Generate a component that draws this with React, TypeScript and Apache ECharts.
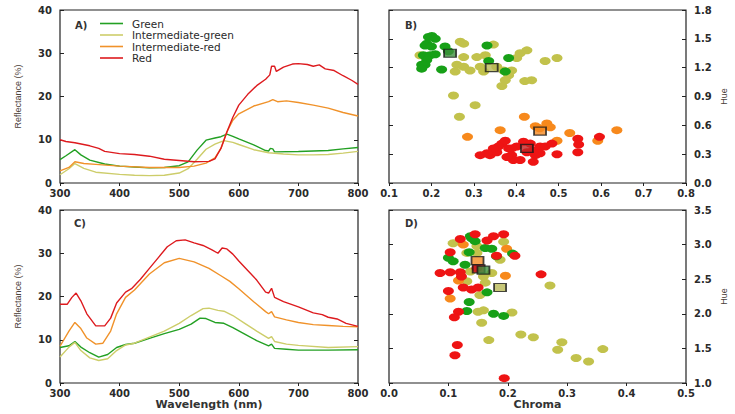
import React, { useEffect, useRef } from "react";
import * as echarts from "echarts";

// ---------- Data ----------
const seriesNames = ["Green", "Intermediate-green", "Intermediate-red", "Red"];
const lineColors = ["#23a023", "#cdcd6a", "#f0922a", "#dd1a1e"];
const dotColors = ["#17a017", "#c2c24c", "#f7891c", "#ee1414"];
const meanColors = ["#3f8f3f", "#b9b956", "#f58a22", "#c22222"];

const wavelengthTicks = [300, 400, 500, 600, 700, 800];

// Panel A: reflectance spectra, [wavelength nm, reflectance %]
const aGreen = [[300,5.4],[310,6.3],[325,7.7],[335,6.5],[350,5.3],[375,4.4],[400,3.9],[425,3.7],[450,3.5],[475,3.6],[500,4.0],[515,4.9],[530,7.6],[545,9.9],[560,10.4],[570,10.7],[580,11.3],[590,10.8],[600,10.2],[625,8.8],[645,7.5],[650,7.4],[653,8.0],[657,7.9],[660,7.2],[700,7.3],[725,7.4],[750,7.5],[775,7.9],[800,8.2]];
const aIntGreen = [[300,1.9],[315,3.3],[325,4.5],[340,3.4],[360,2.5],[400,2.0],[425,1.8],[450,1.7],[475,1.8],[500,2.3],[515,3.3],[530,5.5],[545,7.8],[560,9.0],[575,9.8],[590,9.4],[600,8.9],[625,7.7],[650,7.0],[675,6.7],[700,6.5],[725,6.5],[750,6.6],[775,6.9],[800,7.3]];
const aIntRed = [[300,2.8],[315,3.6],[325,4.9],[340,4.5],[360,4.3],[400,3.9],[450,3.6],[500,3.6],[525,3.9],[545,4.6],[560,5.8],[570,8.0],[580,11.8],[590,14.5],[600,16.0],[625,17.8],[650,18.8],[657,19.3],[665,18.8],[680,19.0],[700,18.6],[725,18.0],[750,17.3],[775,16.3],[800,15.5]];
const aRed = [[300,10.0],[310,9.6],[325,9.3],[350,8.6],[365,8.0],[375,7.3],[400,6.8],[425,6.6],[450,6.2],[475,5.5],[500,5.2],[525,4.9],[550,5.0],[560,5.6],[570,8.0],[580,11.8],[590,15.2],[600,18.0],[615,20.5],[630,22.5],[645,24.0],[652,25.0],[655,27.0],[660,27.0],[663,25.8],[675,26.8],[690,27.5],[700,27.6],[715,27.4],[725,27.0],[735,27.3],[745,26.4],[760,26.0],[775,24.8],[790,23.7],[800,22.8]];

// Panel C: reflectance spectra, [wavelength nm, reflectance %]
const cGreen = [[300,8.2],[315,8.6],[325,9.6],[335,8.3],[350,7.0],[365,6.0],[380,6.6],[395,8.2],[410,8.9],[425,9.2],[450,10.3],[475,11.4],[500,12.4],[520,13.6],[535,15.0],[545,14.9],[560,14.0],[575,13.8],[590,12.8],[610,11.3],[630,9.8],[650,8.6],[655,9.0],[660,8.0],[680,7.8],[700,7.6],[750,7.6],[800,7.7]];
const cIntGreen = [[300,6.0],[315,8.3],[325,9.4],[335,7.5],[350,5.8],[365,5.2],[380,5.6],[395,7.5],[410,8.8],[425,9.2],[450,10.6],[475,12.0],[500,13.8],[520,15.6],[540,17.2],[550,17.3],[565,16.8],[575,16.6],[590,15.6],[610,13.8],[630,12.0],[650,10.3],[655,10.7],[660,9.6],[680,9.0],[700,8.7],[750,8.2],[800,8.4]];
const cIntRed = [[300,8.5],[315,12.0],[325,14.0],[335,12.6],[345,10.4],[360,9.0],[372,9.2],[385,12.0],[395,16.0],[410,19.8],[425,21.5],[450,25.2],[475,27.8],[500,28.8],[525,28.0],[550,26.5],[570,24.8],[585,23.5],[600,21.8],[625,18.8],[645,16.5],[650,16.0],[655,16.5],[660,15.3],[680,14.6],[700,14.0],[725,13.5],[750,13.3],[775,13.1],[800,13.0]];
const cRed = [[300,18.2],[312,18.2],[320,19.8],[327,20.8],[335,19.0],[345,16.0],[360,13.2],[375,13.2],[385,15.0],[395,18.5],[410,21.0],[420,21.8],[435,24.0],[450,26.5],[465,29.0],[480,31.5],[495,32.9],[510,33.1],[525,32.4],[540,31.8],[555,30.8],[565,30.0],[572,31.2],[580,31.0],[590,29.8],[600,28.2],[615,26.0],[630,23.8],[645,21.0],[650,20.8],[655,21.9],[660,19.8],[675,18.8],[700,17.6],[725,16.2],[740,15.8],[750,15.2],[765,14.8],[780,13.8],[800,13.1]];

// Panel B: [chroma, hue]
const bGreen = [[0.193,1.52],[0.201,1.53],[0.209,1.50],[0.189,1.45],[0.185,1.43],[0.200,1.42],[0.232,1.42],[0.240,1.37],[0.181,1.33],[0.197,1.33],[0.209,1.34],[0.189,1.28],[0.185,1.23],[0.177,1.23],[0.177,1.19],[0.224,1.18],[0.331,1.43],[0.335,1.27],[0.382,1.30],[0.374,1.16]];
const bIntGreen = [[0.268,1.47],[0.276,1.45],[0.346,1.44],[0.173,1.33],[0.276,1.31],[0.260,1.23],[0.276,1.21],[0.291,1.17],[0.256,1.16],[0.307,1.31],[0.327,1.33],[0.315,1.21],[0.323,1.16],[0.354,1.21],[0.370,1.17],[0.389,1.17],[0.382,1.12],[0.374,1.07],[0.366,1.01],[0.401,1.30],[0.409,1.35],[0.425,1.38],[0.420,1.06],[0.436,1.07],[0.468,1.27],[0.496,1.30],[0.252,0.91],[0.303,0.81],[0.266,0.69]];
const bIntRed = [[0.419,0.69],[0.362,0.55],[0.285,0.48],[0.445,0.59],[0.472,0.62],[0.480,0.58],[0.526,0.52],[0.496,0.44],[0.592,0.44],[0.637,0.55],[0.455,0.57]];
const bRed = [[0.315,0.29],[0.338,0.29],[0.354,0.32],[0.366,0.41],[0.374,0.44],[0.358,0.38],[0.382,0.36],[0.389,0.29],[0.393,0.24],[0.409,0.24],[0.401,0.38],[0.417,0.43],[0.433,0.41],[0.440,0.34],[0.456,0.38],[0.468,0.38],[0.456,0.31],[0.445,0.29],[0.484,0.41],[0.496,0.30],[0.440,0.22],[0.545,0.46],[0.547,0.40],[0.545,0.32],[0.596,0.48],[0.425,0.32],[0.378,0.27],[0.346,0.36],[0.389,0.36],[0.331,0.31]];
const bMeans = [[0.244,1.35],[0.342,1.20],[0.456,0.54],[0.425,0.36]];

// Panel D: [chroma, hue]
const dGreen = [[0.137,3.12],[0.145,3.05],[0.100,2.81],[0.108,2.76],[0.128,2.71],[0.135,2.89],[0.162,2.95],[0.173,2.94],[0.181,2.83],[0.208,2.87],[0.165,2.31],[0.135,2.17],[0.131,2.04],[0.176,2.00],[0.193,1.97],[0.139,3.09]];
const dIntGreen = [[0.108,3.02],[0.148,2.98],[0.193,3.04],[0.131,2.88],[0.148,2.88],[0.187,2.78],[0.137,2.61],[0.173,2.59],[0.159,2.54],[0.162,2.45],[0.153,2.27],[0.150,2.03],[0.159,2.05],[0.207,2.02],[0.156,1.87],[0.168,1.62],[0.222,1.70],[0.243,1.66],[0.291,1.59],[0.284,1.48],[0.315,1.36],[0.336,1.31],[0.360,1.49],[0.271,2.41],[0.131,2.47]];
const dIntRed = [[0.198,2.94],[0.196,2.55],[0.103,2.22],[0.117,2.48],[0.125,3.00]];
const dRed = [[0.145,3.15],[0.120,3.08],[0.193,3.15],[0.176,3.12],[0.165,3.06],[0.103,2.89],[0.086,2.59],[0.103,2.60],[0.120,2.60],[0.122,2.54],[0.125,2.38],[0.139,2.35],[0.150,2.38],[0.100,2.33],[0.117,2.03],[0.110,1.95],[0.115,1.55],[0.111,1.40],[0.194,1.07],[0.256,2.57],[0.212,2.84],[0.181,2.84],[0.148,2.66]];
const dMeans = [[0.159,2.63],[0.187,2.38],[0.149,2.77],[0.151,2.65]];

// ---------- Styles ----------
const tickFont = { fontFamily: "DejaVu Sans", fontWeight: "bold" as const, fontSize: 10, color: "#2a2a2a" };

function xAxisCfg(grid: number, min: number, max: number, interval: number, dec: number, name?: string) {
  return {
    type: "value", gridIndex: grid, min, max, interval,
    axisLine: { show: false },
    axisTick: { show: true, inside: false, length: 3, lineStyle: { color: "#222", width: 1 } },
    axisLabel: { ...tickFont, margin: 5, formatter: (v: number) => v.toFixed(dec) },
    splitLine: { show: false },
    name: name || "",
    nameLocation: "middle",
    nameGap: 15,
    nameTextStyle: { fontFamily: "DejaVu Sans", fontWeight: "bold", fontSize: 11, color: "#333", verticalAlign: "top" },
  };
}

function yAxisCfg(grid: number, pos: "left" | "right", min: number, max: number, interval: number, dec: number, showLabel: boolean, name?: string) {
  return {
    type: "value", gridIndex: grid, position: pos, min, max, interval,
    axisLine: { show: false },
    axisTick: { show: true, inside: true, length: 4, lineStyle: { color: "#222", width: 1 } },
    axisLabel: { show: showLabel, ...tickFont, margin: 8, formatter: (v: number) => v.toFixed(dec) },
    splitLine: { show: false },
    name: name || "",
    nameLocation: "middle",
    nameRotate: 90,
    nameGap: pos === "left" ? 38 : 33,
    nameTextStyle: { fontFamily: "Liberation Sans", fontSize: 9, color: "#4a4038" },
  };
}

const gridBox = { show: true, borderColor: "#222", borderWidth: 1.2, backgroundColor: "transparent" };

export default function App() {
  const ref = useRef<HTMLDivElement>(null);
  useEffect(() => {
    document.body.style.margin = "0";
    if (!ref.current) return;
    const chart = echarts.init(ref.current, null, { renderer: "svg" });

    const lineSeries = (data: number[][], i: number, grid: 0 | 2, named: boolean) => ({
      type: "line",
      name: named ? seriesNames[i] : seriesNames[i] + " (C)",
      xAxisIndex: grid === 0 ? 0 : 2,
      yAxisIndex: grid === 0 ? 0 : 4,
      data,
      showSymbol: false,
      symbol: "none",
      lineStyle: { color: lineColors[i], width: 1.4 },
      itemStyle: { color: lineColors[i] },
      z: 2 + i,
    });

    const dotSeries = (data: number[][], i: number, panel: "B" | "D", z: number) => ({
      type: "scatter",
      name: seriesNames[i] + " (" + panel + ")",
      xAxisIndex: panel === "B" ? 1 : 3,
      yAxisIndex: panel === "B" ? 3 : 7,
      data,
      symbol: "circle",
      symbolSize: [11, 8],
      itemStyle: { color: dotColors[i], opacity: 1 },
      z,
    });

    const meanSeries = (means: number[][], i: number, panel: "B" | "D") => ({
      type: "scatter",
      name: seriesNames[i] + " mean (" + panel + ")",
      xAxisIndex: panel === "B" ? 1 : 3,
      yAxisIndex: panel === "B" ? 3 : 7,
      data: [means[i]],
      symbol: "rect",
      symbolSize: [12, 8],
      itemStyle: { color: meanColors[i], borderColor: "#1a1a1a", borderWidth: 1.5 },
      z: 20,
    });

    const panelLabel = (text: string, x: number, y: number) => ({
      type: "text", x, y,
      style: { text, fontFamily: "DejaVu Sans", fontWeight: "bold", fontSize: 10, fill: "#333", textVerticalAlign: "middle" },
    });

    chart.setOption({
      animation: false,
      backgroundColor: "#fff",
      grid: [
        { left: 60, top: 10, width: 298, height: 173, ...gridBox },
        { left: 389, top: 10, width: 297, height: 173, ...gridBox },
        { left: 60, top: 210, width: 298, height: 173, ...gridBox },
        { left: 389, top: 210, width: 297, height: 173, ...gridBox },
      ],
      xAxis: [
        xAxisCfg(0, wavelengthTicks[0], wavelengthTicks[wavelengthTicks.length - 1], 100, 0),
        xAxisCfg(1, 0.1, 0.8, 0.1, 1),
        xAxisCfg(2, wavelengthTicks[0], wavelengthTicks[wavelengthTicks.length - 1], 100, 0, "Wavelength (nm)"),
        xAxisCfg(3, 0, 0.5, 0.1, 1, "Chroma"),
      ],
      yAxis: [
        yAxisCfg(0, "left", 0, 40, 10, 0, true, "Reflectance (%)"),
        yAxisCfg(0, "right", 0, 40, 10, 0, false),
        yAxisCfg(1, "left", 0, 1.8, 0.3, 1, false),
        yAxisCfg(1, "right", 0, 1.8, 0.3, 1, true, "Hue"),
        yAxisCfg(2, "left", 0, 40, 10, 0, true, "Reflectance (%)"),
        yAxisCfg(2, "right", 0, 40, 10, 0, false),
        yAxisCfg(3, "left", 1, 3.5, 0.5, 1, false),
        yAxisCfg(3, "right", 1, 3.5, 0.5, 1, true, "Hue"),
      ],
      legend: {
        data: seriesNames,
        orient: "vertical",
        left: 100,
        top: 18,
        padding: 0,
        itemGap: 0.5,
        itemWidth: 23,
        itemHeight: 1.6,
        icon: "rect",
        textStyle: { fontFamily: "DejaVu Sans", fontSize: 10.5, color: "#2a2a2a", lineHeight: 10, padding: [0, 0, 0, 4] },
      },
      graphic: [
        panelLabel("A)", 75, 25),
        panelLabel("B)", 405, 25),
        panelLabel("C)", 74, 223),
        panelLabel("D)", 405, 223),
      ],
      series: [
        lineSeries(aGreen, 0, 0, true),
        lineSeries(aIntGreen, 1, 0, true),
        lineSeries(aIntRed, 2, 0, true),
        lineSeries(aRed, 3, 0, true),
        lineSeries(cGreen, 0, 2, false),
        lineSeries(cIntGreen, 1, 2, false),
        lineSeries(cIntRed, 2, 2, false),
        lineSeries(cRed, 3, 2, false),
        dotSeries(bIntGreen, 1, "B", 3),
        dotSeries(bGreen, 0, "B", 4),
        dotSeries(bIntRed, 2, "B", 5),
        dotSeries(bRed, 3, "B", 6),
        dotSeries(dIntGreen, 1, "D", 3),
        dotSeries(dIntRed, 2, "D", 4),
        dotSeries(dGreen, 0, "D", 5),
        dotSeries(dRed, 3, "D", 6),
        meanSeries(bMeans, 0, "B"),
        meanSeries(bMeans, 1, "B"),
        meanSeries(bMeans, 2, "B"),
        meanSeries(bMeans, 3, "B"),
        meanSeries(dMeans, 1, "D"),
        meanSeries(dMeans, 2, "D"),
        meanSeries(dMeans, 3, "D"),
        meanSeries(dMeans, 0, "D"),
      ],
    });
    return () => chart.dispose();
  }, []);
  return <div ref={ref} style={{ width: 735, height: 414 }} />;
}
